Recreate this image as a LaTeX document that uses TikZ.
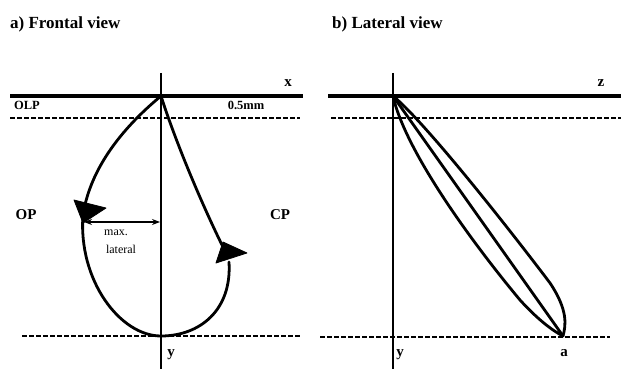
\documentclass[tikz,border=0pt]{standalone}
\usepackage{fontspec}
\setmainfont{Liberation Serif}
\usetikzlibrary{arrows.meta}
\tikzset{
  axisline/.style={line width=3.2pt},
  vaxis/.style={line width=2.4pt},
  dashline/.style={line width=2.7pt, dash pattern=on 5pt off 2pt},
  curve/.style={line width=2.8pt, line cap=round, line join=round},
  flag/.style={fill=black, draw=black, line width=0.8pt, line join=round},
  title/.style={font=\fontsize{17}{19}\selectfont\bfseries, anchor=west, inner sep=0pt},
  lbl/.style={font=\fontsize{15}{17}\selectfont\bfseries, inner sep=0pt},
  lblsm/.style={font=\fontsize{12.5}{14}\selectfont\bfseries, inner sep=0pt},
  small/.style={font=\fontsize{12}{14}\selectfont, inner sep=0pt}
}
\begin{document}
\begin{tikzpicture}[x=1pt,y=-1pt]
\useasboundingbox (0,0) rectangle (621,369);
% titles
\node[title] (ta) at (10,24) {a) Frontal view};
\node[title] (tb) at (332,24) {b) Lateral view};
% ---------------- frontal view ----------------
\coordinate (fo) at (161,96);
\coordinate (fb) at (161,336);
\coordinate (fl) at (83,215);
\coordinate (fr) at (229,262);
\coordinate (fra) at (222,245);
\draw[axisline] (10,96) -- (303,96);
\draw[vaxis] (161,73) -- (161,369);
\draw[dashline] (10,118) -- (300,118);
\draw[dashline] (22,336) -- (300,336);
\node[lbl] (xl) at (288,83) {x};
\node[lblsm] (olp) at (27,105) {OLP};
\node[lblsm] (mm) at (246,105) {0.5mm};
\node[lbl] (op) at (26,215) {OP};
\node[lbl] (cp) at (280,215) {CP};
\node[lbl] (yf) at (171,355) {y};
% loop
\draw[curve] (fo) .. controls (120,130) and (90,170) .. (fl) .. controls (78,280) and (120,336) .. (fb);
\draw[curve] (fb) .. controls (200,336) and (232,310) .. (fr);
\draw[curve] (fo) .. controls (175,140) and (200,200) .. (fra);
\draw[flag] (74,200) -- (106,208) -- (83,223) -- cycle;
\draw[flag] (223,242) -- (247,253) -- (216,263) -- cycle;
% max lateral
\coordinate (ml) at (84,222);
\coordinate (mr) at (160,222);
\draw[line width=1.2pt, {Stealth[length=8pt,width=6pt]}-{Stealth[length=8pt,width=6pt]}] (ml) -- (mr);
\node[small] (maxl) at (116,233) {max.};
\node[small] (latl) at (121,249) {lateral};
% ---------------- lateral view ----------------
\coordinate (lo) at (393,96);
\coordinate (la) at (563,336);
\draw[axisline] (328,96) -- (621,96);
\draw[vaxis] (393,73) -- (393,369);
\draw[dashline] (331,118) -- (621,118);
\draw[dashline] (320,337) -- (610,337);
\node[lbl] (zl) at (601,83) {z};
\node[lbl] (yl) at (400,355) {y};
\node[lbl] (al) at (564,353) {a};
\draw[curve] (lo) .. controls (405,150) and (470,240) .. (520,300) .. controls (540,322) and (555,332) .. (la);
\draw[curve] (lo) -- (la);
\draw[curve] (lo) .. controls (425,122) and (510,230) .. (550,283) .. controls (568,310) and (566,325) .. (la);
\end{tikzpicture}
\end{document}
